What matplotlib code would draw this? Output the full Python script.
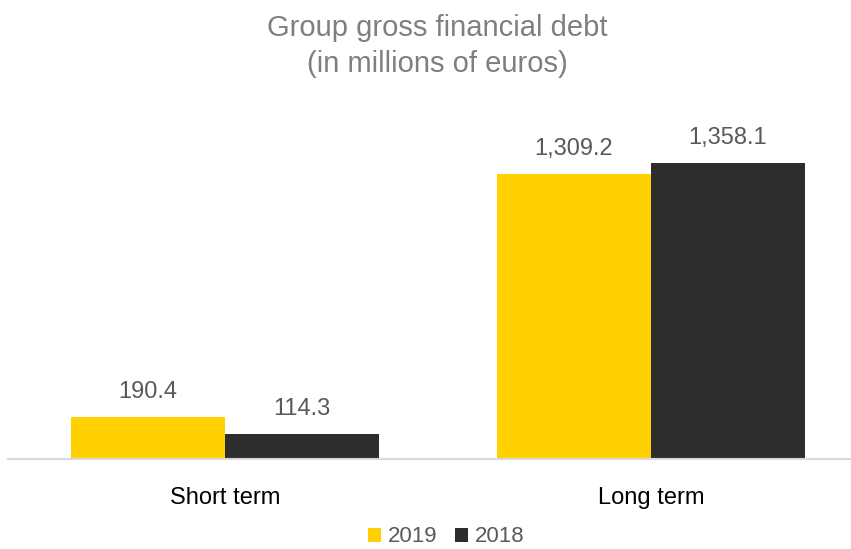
import numpy as np
import matplotlib
matplotlib.use('Agg')
from matplotlib import pyplot as plt

categories = ['Short term', 'Long term']
series_names = ['2019', '2018']
values_2019 = [190.4, 1309.2]
values_2018 = [114.3, 1358.1]
labels_2019 = ['190.4', '1,309.2']
labels_2018 = ['114.3', '1,358.1']

plt.rcParams['font.family'] = ['Liberation Sans', 'DejaVu Sans']

fig = plt.figure(figsize=(8.51, 5.49), dpi=100)
ax = fig.add_axes([8/851, 90/549, 1 - 8/851, (459 - 132)/549])

x = np.arange(len(categories))
w = 0.3615
b1 = ax.bar(x - w/2, values_2019, w, color='#FFD100', label=series_names[0])
b2 = ax.bar(x + w/2, values_2018, w, color='#2D2D2D', label=series_names[1])

for bars, labs in ((b1, labels_2019), (b2, labels_2018)):
    for r, lab in zip(bars, labs):
        ax.annotate(lab, (r.get_x() + r.get_width()/2, r.get_height()),
                    xytext=(0, 18), textcoords='offset points',
                    ha='center', va='center', fontsize=17, color='#595959')

ax.set_xlim(-0.51, 1.47)
ax.set_ylim(0, 1500)
ax.set_yticks([])
ax.set_xticks(x)
ax.set_xticklabels(categories, fontsize=17, color='black')
ax.tick_params(axis='x', length=0, pad=20)
for s in ['top', 'right', 'left']:
    ax.spines[s].set_visible(False)
ax.spines['bottom'].set_color('#D9D9D9')
ax.spines['bottom'].set_linewidth(1.5)

fig.text(437/851, 1 - 46/549, 'Group gross financial debt\n(in millions of euros)',
         ha='center', va='center', fontsize=21, color='#7F7F7F', linespacing=1.35)

fig.legend(handles=[b1, b2], loc='center', bbox_to_anchor=(446/851, 1 - 537/549),
           ncol=2, frameon=False, fontsize=16, handlelength=0.6, handleheight=0.6,
           handletextpad=0.3, columnspacing=0.8, labelcolor='#595959',
           borderpad=0.2)

fig.savefig('out.png', dpi=100)
